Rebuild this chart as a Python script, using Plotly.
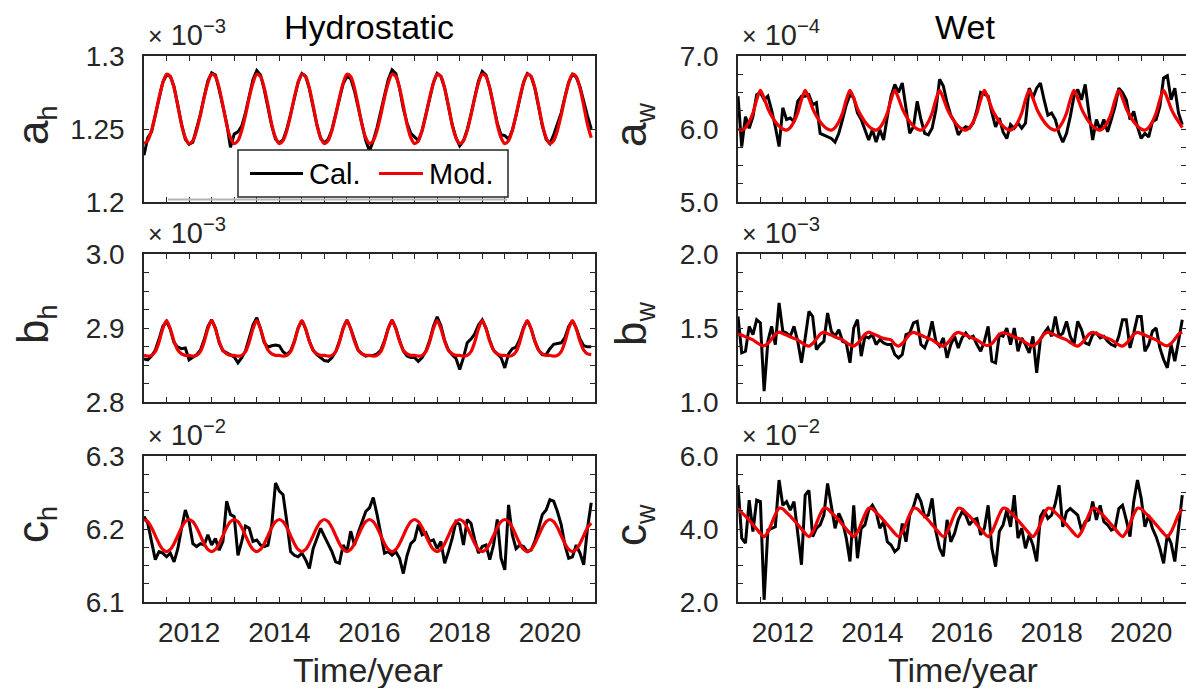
import plotly.graph_objects as go

W, H = 1186, 695

# ---------------- data (monthly, Jan 2011 - Dec 2020) ----------------
TIME = [2011 + m / 12 for m in range(120)]

AH_CAL = [1.2320, 1.2440, 1.2480, 1.2590, 1.2720, 1.2820, 1.2870, 1.2860, 1.2790, 1.2650, 1.2530, 1.2430,
          1.2395, 1.2410, 1.2500, 1.2600, 1.2720, 1.2830, 1.2885, 1.2870, 1.2770, 1.2650, 1.2540, 1.2375,
          1.2465, 1.2480, 1.2520, 1.2610, 1.2730, 1.2840, 1.2900, 1.2870, 1.2770, 1.2640, 1.2520, 1.2430,
          1.2405, 1.2425, 1.2500, 1.2600, 1.2710, 1.2820, 1.2880, 1.2860, 1.2775, 1.2655, 1.2530, 1.2435,
          1.2405, 1.2430, 1.2495, 1.2600, 1.2715, 1.2810, 1.2860, 1.2845, 1.2760, 1.2650, 1.2520, 1.2420,
          1.2350, 1.2420, 1.2510, 1.2610, 1.2730, 1.2840, 1.2905, 1.2880, 1.2780, 1.2640, 1.2540, 1.2470,
          1.2445, 1.2420, 1.2490, 1.2595, 1.2715, 1.2815, 1.2880, 1.2860, 1.2780, 1.2660, 1.2530, 1.2440,
          1.2385, 1.2420, 1.2495, 1.2600, 1.2720, 1.2830, 1.2895, 1.2870, 1.2780, 1.2660, 1.2540, 1.2460,
          1.2455, 1.2430, 1.2490, 1.2595, 1.2715, 1.2820, 1.2880, 1.2860, 1.2780, 1.2650, 1.2520, 1.2430,
          1.2400, 1.2460, 1.2530, 1.2610, 1.2720, 1.2820, 1.2875, 1.2855, 1.2790, 1.2680, 1.2590, 1.2500]
AH_MOD = [1.2400, 1.2420, 1.2490, 1.2595, 1.2715, 1.2815, 1.2875, 1.2860, 1.2780, 1.2660, 1.2530, 1.2440,
          1.2400, 1.2420, 1.2490, 1.2595, 1.2715, 1.2815, 1.2875, 1.2860, 1.2780, 1.2660, 1.2530, 1.2440,
          1.2400, 1.2420, 1.2490, 1.2595, 1.2715, 1.2815, 1.2875, 1.2860, 1.2780, 1.2660, 1.2530, 1.2440,
          1.2400, 1.2420, 1.2490, 1.2595, 1.2715, 1.2815, 1.2875, 1.2860, 1.2780, 1.2660, 1.2530, 1.2440,
          1.2400, 1.2420, 1.2490, 1.2595, 1.2715, 1.2815, 1.2875, 1.2860, 1.2780, 1.2660, 1.2530, 1.2440,
          1.2400, 1.2420, 1.2490, 1.2595, 1.2715, 1.2815, 1.2875, 1.2860, 1.2780, 1.2660, 1.2530, 1.2440,
          1.2400, 1.2420, 1.2490, 1.2595, 1.2715, 1.2815, 1.2875, 1.2860, 1.2780, 1.2660, 1.2530, 1.2440,
          1.2400, 1.2420, 1.2490, 1.2595, 1.2715, 1.2815, 1.2875, 1.2860, 1.2780, 1.2660, 1.2530, 1.2440,
          1.2400, 1.2420, 1.2490, 1.2595, 1.2715, 1.2815, 1.2875, 1.2860, 1.2780, 1.2660, 1.2530, 1.2440,
          1.2400, 1.2420, 1.2490, 1.2595, 1.2715, 1.2815, 1.2875, 1.2860, 1.2780, 1.2660, 1.2530, 1.2440]

BH_CAL = [2.8580, 2.8570, 2.8620, 2.8700, 2.8850, 2.9020, 2.9090, 2.8980, 2.8800, 2.8740, 2.8720, 2.8730,
          2.8570, 2.8600, 2.8640, 2.8700, 2.8840, 2.9020, 2.9110, 2.9000, 2.8800, 2.8690, 2.8660, 2.8640,
          2.8610, 2.8530, 2.8600, 2.8690, 2.8850, 2.9040, 2.9140, 2.8990, 2.8800, 2.8740, 2.8760, 2.8770,
          2.8760, 2.8680, 2.8640, 2.8690, 2.8820, 2.9000, 2.9100, 2.8990, 2.8820, 2.8700, 2.8640, 2.8600,
          2.8560, 2.8550, 2.8600, 2.8680, 2.8820, 2.9000, 2.9110, 2.8990, 2.8830, 2.8700, 2.8650, 2.8620,
          2.8630, 2.8630, 2.8650, 2.8700, 2.8830, 2.9000, 2.9110, 2.9000, 2.8830, 2.8690, 2.8620, 2.8600,
          2.8600, 2.8550, 2.8600, 2.8690, 2.8830, 2.9020, 2.9150, 2.9030, 2.8830, 2.8700, 2.8640, 2.8590,
          2.8440, 2.8600, 2.8800, 2.8850, 2.8920, 2.9040, 2.9110, 2.9000, 2.8830, 2.8700, 2.8650, 2.8600,
          2.8460, 2.8650, 2.8720, 2.8740, 2.8850, 2.9010, 2.9100, 2.8990, 2.8820, 2.8700, 2.8640, 2.8640,
          2.8720, 2.8780, 2.8790, 2.8800, 2.8870, 2.9020, 2.9100, 2.9000, 2.8850, 2.8760, 2.8745, 2.8745]
BH_MOD = [2.8630, 2.8620, 2.8630, 2.8680, 2.8810, 2.8990, 2.9100, 2.8990, 2.8820, 2.8700, 2.8650, 2.8630,
          2.8630, 2.8620, 2.8630, 2.8680, 2.8810, 2.8990, 2.9100, 2.8990, 2.8820, 2.8700, 2.8650, 2.8630,
          2.8630, 2.8620, 2.8630, 2.8680, 2.8810, 2.8990, 2.9100, 2.8990, 2.8820, 2.8700, 2.8650, 2.8630,
          2.8630, 2.8620, 2.8630, 2.8680, 2.8810, 2.8990, 2.9100, 2.8990, 2.8820, 2.8700, 2.8650, 2.8630,
          2.8630, 2.8620, 2.8630, 2.8680, 2.8810, 2.8990, 2.9100, 2.8990, 2.8820, 2.8700, 2.8650, 2.8630,
          2.8630, 2.8620, 2.8630, 2.8680, 2.8810, 2.8990, 2.9100, 2.8990, 2.8820, 2.8700, 2.8650, 2.8630,
          2.8630, 2.8620, 2.8630, 2.8680, 2.8810, 2.8990, 2.9100, 2.8990, 2.8820, 2.8700, 2.8650, 2.8630,
          2.8630, 2.8620, 2.8630, 2.8680, 2.8810, 2.8990, 2.9100, 2.8990, 2.8820, 2.8700, 2.8650, 2.8630,
          2.8630, 2.8620, 2.8630, 2.8680, 2.8810, 2.8990, 2.9100, 2.8990, 2.8820, 2.8700, 2.8650, 2.8630,
          2.8630, 2.8620, 2.8630, 2.8680, 2.8810, 2.8990, 2.9100, 2.8990, 2.8820, 2.8700, 2.8650, 2.8640]

CH_CAL = [6.217, 6.208, 6.183, 6.158, 6.169, 6.167, 6.162, 6.167, 6.155, 6.173, 6.201, 6.226,
          6.210, 6.180, 6.176, 6.180, 6.178, 6.192, 6.178, 6.187, 6.171, 6.183, 6.238, 6.220,
          6.217, 6.164, 6.183, 6.204, 6.201, 6.183, 6.185, 6.178, 6.176, 6.178, 6.206, 6.263,
          6.252, 6.247, 6.210, 6.169, 6.164, 6.162, 6.167, 6.158, 6.146, 6.173, 6.187, 6.201,
          6.190, 6.180, 6.169, 6.155, 6.153, 6.178, 6.169, 6.197, 6.178, 6.195, 6.210, 6.224,
          6.229, 6.243, 6.220, 6.195, 6.167, 6.169, 6.164, 6.169, 6.160, 6.139, 6.164, 6.180,
          6.185, 6.206, 6.192, 6.195, 6.183, 6.185, 6.173, 6.183, 6.153, 6.169, 6.187, 6.210,
          6.206, 6.178, 6.213, 6.208, 6.185, 6.167, 6.176, 6.178, 6.158, 6.178, 6.213, 6.160,
          6.144, 6.233, 6.192, 6.173, 6.178, 6.176, 6.169, 6.171, 6.183, 6.201, 6.220, 6.226,
          6.240, 6.238, 6.224, 6.206, 6.178, 6.160, 6.162, 6.178, 6.167, 6.151, 6.201, 6.236]
CH_MOD = [6.213, 6.210, 6.202, 6.191, 6.180, 6.172, 6.169, 6.172, 6.180, 6.191, 6.202, 6.210,
          6.213, 6.210, 6.202, 6.191, 6.180, 6.172, 6.169, 6.172, 6.180, 6.191, 6.202, 6.210,
          6.213, 6.210, 6.202, 6.191, 6.180, 6.172, 6.169, 6.172, 6.180, 6.191, 6.202, 6.210,
          6.213, 6.210, 6.202, 6.191, 6.180, 6.172, 6.169, 6.172, 6.180, 6.191, 6.202, 6.210,
          6.213, 6.210, 6.202, 6.191, 6.180, 6.172, 6.169, 6.172, 6.180, 6.191, 6.202, 6.210,
          6.213, 6.210, 6.202, 6.191, 6.180, 6.172, 6.169, 6.172, 6.180, 6.191, 6.202, 6.210,
          6.213, 6.210, 6.202, 6.191, 6.180, 6.172, 6.169, 6.172, 6.180, 6.191, 6.202, 6.210,
          6.213, 6.210, 6.202, 6.191, 6.180, 6.172, 6.169, 6.172, 6.180, 6.191, 6.202, 6.210,
          6.213, 6.210, 6.202, 6.191, 6.180, 6.172, 6.169, 6.172, 6.180, 6.191, 6.202, 6.210,
          6.213, 6.210, 6.202, 6.191, 6.180, 6.172, 6.169, 6.172, 6.180, 6.191, 6.202, 6.208]

AW_CAL = [6.45, 5.76, 6.17, 6.01, 6.17, 6.47, 6.50, 6.40, 6.45, 6.26, 6.03, 5.76,
          6.29, 6.13, 6.15, 6.10, 6.38, 6.45, 6.45, 6.47, 6.33, 6.36, 5.94, 5.92,
          5.89, 5.87, 5.82, 5.94, 6.13, 6.33, 6.47, 6.43, 6.22, 6.13, 5.99, 5.85,
          5.99, 5.82, 5.99, 5.85, 6.17, 6.45, 6.61, 6.50, 6.63, 6.29, 5.94, 6.03,
          6.38, 6.13, 5.94, 5.92, 6.01, 6.26, 6.68, 6.59, 6.36, 6.19, 6.10, 5.92,
          5.99, 6.03, 6.01, 6.08, 6.26, 6.50, 6.47, 6.45, 6.22, 6.03, 6.15, 5.96,
          5.87, 6.06, 6.01, 6.08, 6.01, 6.08, 6.56, 6.43, 6.56, 6.63, 6.40, 6.19,
          6.22, 6.13, 5.94, 5.82, 5.94, 6.17, 6.45, 6.54, 6.40, 6.61, 6.22, 5.85,
          6.13, 5.99, 6.13, 5.96, 6.13, 6.31, 6.56, 6.50, 6.40, 6.13, 6.24, 6.03,
          5.87, 5.94, 5.89, 6.10, 6.13, 6.31, 6.70, 6.73, 6.40, 6.56, 6.22, 6.06]
AW_MOD = [6.00, 5.985, 6.02, 6.10, 6.22, 6.40, 6.53, 6.42, 6.28, 6.18, 6.10, 6.04,
          6.00, 5.985, 6.02, 6.10, 6.22, 6.40, 6.53, 6.42, 6.28, 6.18, 6.10, 6.04,
          6.00, 5.985, 6.02, 6.10, 6.22, 6.40, 6.53, 6.42, 6.28, 6.18, 6.10, 6.04,
          6.00, 5.985, 6.02, 6.10, 6.22, 6.40, 6.53, 6.42, 6.28, 6.18, 6.10, 6.04,
          6.00, 5.985, 6.02, 6.10, 6.22, 6.40, 6.53, 6.42, 6.28, 6.18, 6.10, 6.04,
          6.00, 5.985, 6.02, 6.10, 6.22, 6.40, 6.53, 6.42, 6.28, 6.18, 6.10, 6.04,
          6.00, 5.985, 6.02, 6.10, 6.22, 6.40, 6.53, 6.42, 6.28, 6.18, 6.10, 6.04,
          6.00, 5.985, 6.02, 6.10, 6.22, 6.40, 6.53, 6.42, 6.28, 6.18, 6.10, 6.04,
          6.00, 5.985, 6.02, 6.10, 6.22, 6.40, 6.53, 6.42, 6.28, 6.18, 6.10, 6.04,
          6.00, 5.985, 6.02, 6.10, 6.22, 6.40, 6.53, 6.42, 6.28, 6.18, 6.10, 6.02]

BW_CAL = [1.578, 1.332, 1.343, 1.511, 1.455, 1.556, 1.534, 1.074, 1.410, 1.511, 1.388, 1.670,
          1.478, 1.466, 1.444, 1.511, 1.410, 1.265, 1.433, 1.612, 1.578, 1.354, 1.388, 1.410,
          1.601, 1.478, 1.444, 1.489, 1.410, 1.399, 1.265, 1.500, 1.556, 1.310, 1.444, 1.433,
          1.455, 1.388, 1.422, 1.399, 1.388, 1.388, 1.321, 1.298, 1.321, 1.455, 1.466, 1.534,
          1.545, 1.388, 1.365, 1.433, 1.545, 1.410, 1.377, 1.433, 1.298, 1.388, 1.444, 1.365,
          1.433, 1.466, 1.433, 1.444, 1.388, 1.343, 1.410, 1.511, 1.276, 1.265, 1.455, 1.444,
          1.500, 1.388, 1.500, 1.343, 1.433, 1.388, 1.332, 1.444, 1.197, 1.422, 1.466, 1.500,
          1.444, 1.578, 1.444, 1.466, 1.545, 1.444, 1.388, 1.545, 1.489, 1.399, 1.388, 1.455,
          1.466, 1.433, 1.444, 1.410, 1.388, 1.377, 1.444, 1.556, 1.556, 1.365, 1.466, 1.578,
          1.578, 1.343, 1.388, 1.478, 1.500, 1.365, 1.287, 1.231, 1.388, 1.276, 1.410, 1.556]
BW_MOD = [1.458, 1.452, 1.440, 1.430, 1.420, 1.402, 1.386, 1.380, 1.395, 1.425, 1.458, 1.472,
          1.462, 1.452, 1.440, 1.430, 1.420, 1.402, 1.386, 1.378, 1.395, 1.425, 1.458, 1.472,
          1.462, 1.452, 1.440, 1.430, 1.420, 1.402, 1.386, 1.378, 1.395, 1.425, 1.458, 1.472,
          1.462, 1.452, 1.440, 1.430, 1.425, 1.420, 1.390, 1.378, 1.395, 1.425, 1.458, 1.470,
          1.462, 1.452, 1.440, 1.430, 1.420, 1.402, 1.386, 1.378, 1.395, 1.425, 1.458, 1.470,
          1.462, 1.452, 1.440, 1.430, 1.420, 1.402, 1.386, 1.382, 1.395, 1.425, 1.458, 1.468,
          1.462, 1.452, 1.440, 1.430, 1.420, 1.402, 1.386, 1.380, 1.395, 1.425, 1.458, 1.472,
          1.462, 1.452, 1.440, 1.430, 1.420, 1.402, 1.386, 1.378, 1.395, 1.425, 1.458, 1.470,
          1.462, 1.452, 1.440, 1.430, 1.420, 1.402, 1.386, 1.378, 1.395, 1.425, 1.458, 1.470,
          1.462, 1.452, 1.440, 1.430, 1.420, 1.402, 1.386, 1.380, 1.395, 1.425, 1.458, 1.472]

CW_CAL = [5.20, 3.75, 3.61, 4.79, 3.93, 4.79, 4.75, 2.06, 3.97, 4.02, 4.06, 5.34,
          4.65, 4.75, 4.52, 4.75, 3.93, 3.02, 4.93, 5.06, 3.79, 4.02, 4.11, 4.38,
          5.25, 4.65, 4.02, 4.43, 4.20, 3.75, 3.11, 4.65, 3.20, 4.02, 4.11, 4.52,
          4.65, 4.47, 4.02, 4.20, 3.65, 3.56, 3.38, 3.47, 4.15, 3.65, 4.38, 4.61,
          4.97, 4.75, 4.34, 4.38, 4.84, 3.93, 3.47, 3.25, 4.25, 3.65, 3.88, 4.25,
          4.47, 4.38, 4.11, 4.25, 4.29, 3.84, 4.02, 4.65, 3.47, 2.97, 3.93, 4.11,
          4.52, 4.06, 4.93, 3.75, 4.02, 3.47, 3.84, 3.56, 3.11, 4.34, 4.52, 4.29,
          4.38, 4.70, 5.20, 4.06, 4.47, 4.56, 4.47, 4.38, 3.97, 4.20, 4.25, 4.75,
          4.25, 4.65, 4.20, 4.11, 3.97, 4.02, 4.56, 4.65, 4.25, 3.79, 4.75, 5.34,
          4.84, 4.06, 4.38, 4.02, 3.79, 3.47, 3.06, 3.84, 3.61, 3.11, 4.02, 4.93]
CW_MOD = [4.56, 4.45, 4.35, 4.24, 4.12, 4.00, 3.88, 3.79, 3.92, 4.15, 4.40, 4.57,
          4.55, 4.45, 4.35, 4.24, 4.12, 4.00, 3.88, 3.79, 3.92, 4.15, 4.40, 4.57,
          4.55, 4.45, 4.35, 4.24, 4.12, 4.00, 3.88, 3.79, 3.92, 4.15, 4.40, 4.57,
          4.55, 4.45, 4.35, 4.24, 4.12, 4.00, 3.88, 3.79, 3.92, 4.15, 4.40, 4.57,
          4.55, 4.45, 4.35, 4.24, 4.12, 4.00, 3.88, 3.79, 3.92, 4.15, 4.40, 4.57,
          4.55, 4.45, 4.35, 4.24, 4.12, 4.00, 3.88, 3.79, 3.92, 4.15, 4.40, 4.57,
          4.55, 4.45, 4.35, 4.24, 4.12, 4.00, 3.88, 3.79, 3.92, 4.15, 4.40, 4.57,
          4.55, 4.45, 4.35, 4.24, 4.12, 4.00, 3.88, 3.79, 3.92, 4.15, 4.40, 4.57,
          4.55, 4.45, 4.35, 4.24, 4.12, 4.00, 3.88, 3.79, 3.92, 4.15, 4.40, 4.57,
          4.55, 4.45, 4.35, 4.24, 4.12, 4.00, 3.88, 3.79, 3.92, 4.15, 4.40, 4.55]

# tick definitions (labelled ticks + unlabelled minor ticks)
X_TICKS = [2012, 2014, 2016, 2018, 2020]
X_LABELS = ["2012", "2014", "2016", "2018", "2020"]
X_MINOR = [2011.5, 2012.5, 2013, 2013.5, 2014.5, 2015, 2015.5, 2016.5,
           2017, 2017.5, 2018.5, 2019, 2019.5, 2020.5]

Y_SPECS = {
    "ah": dict(rng=[1.2, 1.3], ticks=[1.2, 1.25, 1.3], labels=["1.2", "1.25", "1.3"], minor=[]),
    "bh": dict(rng=[2.8, 3.0], ticks=[2.8, 2.9, 3.0], labels=["2.8", "2.9", "3.0"],
               minor=[2.825, 2.85, 2.875, 2.925, 2.95, 2.975]),
    "ch": dict(rng=[6.1, 6.3], ticks=[6.1, 6.2, 6.3], labels=["6.1", "6.2", "6.3"],
               minor=[6.125, 6.15, 6.175, 6.225, 6.25, 6.275]),
    "aw": dict(rng=[5.0, 7.0], ticks=[5.0, 6.0, 7.0], labels=["5.0", "6.0", "7.0"],
               minor=[5.25, 5.5, 5.75, 6.25, 6.5, 6.75]),
    "bw": dict(rng=[1.0, 2.0], ticks=[1.0, 1.5, 2.0], labels=["1.0", "1.5", "2.0"],
               minor=[1.125, 1.25, 1.375, 1.625, 1.75, 1.875]),
    "cw": dict(rng=[2.0, 6.0], ticks=[2.0, 4.0, 6.0], labels=["2.0", "4.0", "6.0"],
               minor=[2.5, 3.0, 3.5, 4.5, 5.0, 5.5]),
}

SERIES_NAMES = ["Cal.", "Mod."]
SERIES_COLORS = ["black", "#f00000"]

PANELS = [
    # key, cal, mod, row, col, ylabel (base, subscript), exponent
    ("ah", AH_CAL, AH_MOD, 1, 1, ("a", "h"), "−3"),
    ("aw", AW_CAL, AW_MOD, 1, 2, ("a", "w"), "−4"),
    ("bh", BH_CAL, BH_MOD, 2, 1, ("b", "h"), "−3"),
    ("bw", BW_CAL, BW_MOD, 2, 2, ("b", "w"), "−3"),
    ("ch", CH_CAL, CH_MOD, 3, 1, ("c", "h"), "−2"),
    ("cw", CW_CAL, CW_MOD, 3, 2, ("c", "w"), "−2"),
]

# ---------------- layout geometry (pixels) ----------------
COL_PX = {1: (144, 595), 2: (738, 1186)}
ROW_PX = {1: (56, 202), 2: (254, 402), 3: (456, 602)}
FONT = "Liberation Sans, Arial, sans-serif"
AX_COL = "#262626"


def fx(p):
    return p / W


def fy(p):
    return 1 - p / H


fig = go.Figure()
layout = dict(
    template="none",
    width=W, height=H, margin=dict(l=0, r=0, t=0, b=0, pad=0, autoexpand=False),
    paper_bgcolor="white", plot_bgcolor="white",
    font=dict(family=FONT, size=28, color=AX_COL),
    showlegend=False,
)
annotations = []
shapes = []

for i, (key, cal, mod, row, col, ylab, expo) in enumerate(PANELS, start=1):
    xa = "x" if i == 1 else f"x{i}"
    ya = "y" if i == 1 else f"y{i}"
    fig.add_trace(go.Scatter(x=TIME, y=cal, mode="lines", name=SERIES_NAMES[0],
                             line=dict(color=SERIES_COLORS[0], width=3),
                             xaxis=xa, yaxis=ya))
    fig.add_trace(go.Scatter(x=TIME, y=mod, mode="lines", name=SERIES_NAMES[1],
                             line=dict(color=SERIES_COLORS[1], width=3.2, shape="spline", smoothing=0.8),
                             xaxis=xa, yaxis=ya))
    spec = Y_SPECS[key]
    x0, x1 = COL_PX[col]
    y0, y1 = ROW_PX[row]
    common = dict(showline=True, linecolor=AX_COL, linewidth=1.5, mirror="allticks",
                  ticks="inside", ticklen=5, tickwidth=1.3, tickcolor=AX_COL,
                  showgrid=False, zeroline=False, fixedrange=True, automargin=False)
    minor_style = dict(ticks="inside", ticklen=5, tickwidth=1.3, tickcolor=AX_COL, showgrid=False)
    layout["xaxis" if i == 1 else f"xaxis{i}"] = dict(
        common, domain=[fx(x0), fx(x1)], range=[2011, 2021], anchor=ya,
        tickmode="array", tickvals=X_TICKS, ticktext=X_LABELS,
        minor=dict(minor_style, tickmode="array", tickvals=X_MINOR),
        showticklabels=(row == 3), ticklabelstandoff=5,
        tickfont=dict(size=28, color=AX_COL, family=FONT))
    ydict = dict(
        common, domain=[fy(y1), fy(y0)], range=spec["rng"], anchor=xa,
        tickmode="array", tickvals=spec["ticks"], ticktext=spec["labels"],
        ticklabelstandoff=12,
        tickfont=dict(size=28, color=AX_COL, family=FONT))
    if spec["minor"]:
        ydict["minor"] = dict(minor_style, tickmode="array", tickvals=spec["minor"])
    layout["yaxis" if i == 1 else f"yaxis{i}"] = ydict

    # exponent label (MATLAB-style)
    ex_x = 146 if col == 1 else 740
    annotations.append(dict(
        text=f"<span style='font-size:25px'>×</span> 10<sup>{expo}</sup>",
        x=fx(ex_x), y=fy(y0 - 3), xref="paper", yref="paper",
        xanchor="left", yanchor="bottom", showarrow=False,
        font=dict(family=FONT, size=29, color=AX_COL)))
    # y label
    lab_x = 35 if col == 1 else 633
    base, sub = ylab
    annotations.append(dict(
        text=f"{base}<sub><span style='font-size:27px'>{sub}</span></sub>",
        x=fx(lab_x), y=fy((y0 + y1) / 2 - 4), xref="paper", yref="paper",
        xanchor="center", yanchor="middle", textangle=-90, showarrow=False,
        font=dict(family=FONT, size=44, color=AX_COL)))

# titles
annotations.append(dict(text="Hydrostatic", x=fx(369), y=fy(27), xref="paper", yref="paper",
                        xanchor="center", yanchor="middle", showarrow=False,
                        font=dict(family=FONT, size=34, color="black")))
annotations.append(dict(text="Wet", x=fx(965), y=fy(27), xref="paper", yref="paper",
                        xanchor="center", yanchor="middle", showarrow=False,
                        font=dict(family=FONT, size=34, color="black")))
# x-axis titles
for cx in (368, 963):
    annotations.append(dict(text="Time/year", x=fx(cx), y=fy(670), xref="paper", yref="paper",
                            xanchor="center", yanchor="middle", showarrow=False, height=36,
                            font=dict(family=FONT, size=34, color=AX_COL)))

# legend box (drawn in the first panel, MATLAB style)
shapes.append(dict(type="line", xref="paper", yref="paper",
                   x0=fx(168), x1=fx(507), y0=fy(199.5), y1=fy(199.5),
                   line=dict(color="#b4b4b4", width=2), layer="above"))
shapes.append(dict(type="rect", xref="paper", yref="paper",
                   x0=fx(238), x1=fx(508), y0=fy(197), y1=fy(150),
                   fillcolor="white", line=dict(color=AX_COL, width=1.5), layer="above"))
LEG_ITEMS = [(250, 303, 307), (379, 423, 427)]
for (lx0, lx1, tx), name, color in zip(LEG_ITEMS, SERIES_NAMES, SERIES_COLORS):
    shapes.append(dict(type="line", xref="paper", yref="paper",
                       x0=fx(lx0), x1=fx(lx1), y0=fy(173.5), y1=fy(173.5),
                       line=dict(color=color, width=3.2), layer="above"))
    annotations.append(dict(text=name, x=fx(tx), y=fy(174), xref="paper", yref="paper",
                            xanchor="left", yanchor="middle", showarrow=False,
                            font=dict(family=FONT, size=29, color="black")))

layout["annotations"] = annotations
layout["shapes"] = shapes
fig.update_layout(**layout)
fig.write_html("out.html", config={"displayModeBar": False},
               post_script="document.body.style.margin='0px';document.body.style.padding='0px';")
